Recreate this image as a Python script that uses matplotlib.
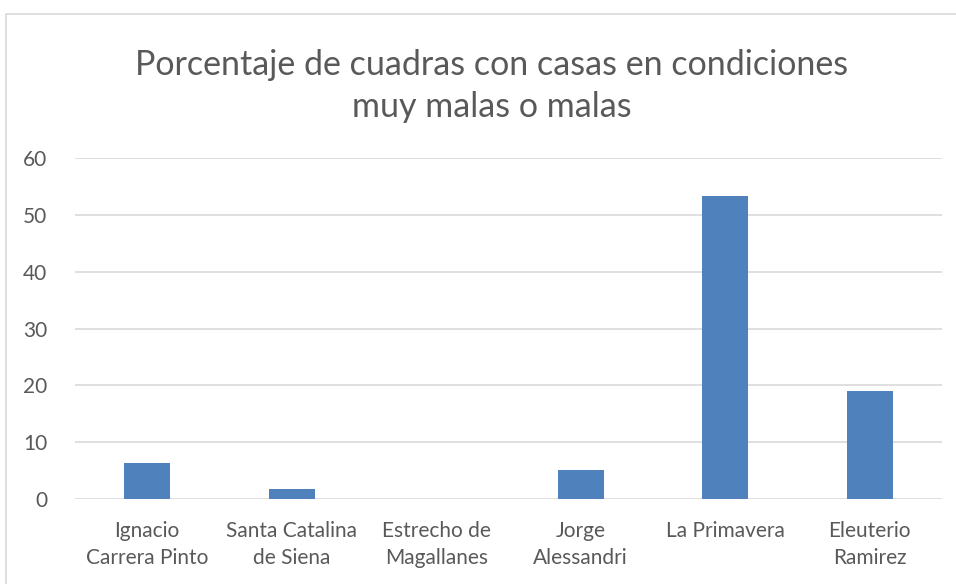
import matplotlib.pyplot as plt
from matplotlib.patches import Rectangle

# data
barrios = ['Ignacio\nCarrera Pinto', 'Santa Catalina\nde Siena', 'Estrecho de\nMagallanes',
           'Jorge\nAlessandri', 'La Primavera', 'Eleuterio\nRamirez']
porcentaje = [6.3, 1.8, 0.0, 5.1, 53.3, 19.0]
yticks = [0, 10, 20, 30, 40, 50, 60]

plt.rcParams['font.family'] = ['Lato', 'DejaVu Sans']
txt = '#595959'

fig = plt.figure(figsize=(9.56, 5.84), dpi=100)
ax = fig.add_axes([75 / 956, 1 - 499 / 584, 867 / 956, 341 / 584])

# outer chart border
fig.patches.append(Rectangle((6 / 956, -0.1), 1.1, 1 - 14 / 584 + 0.1, transform=fig.transFigure,
                             fill=False, edgecolor='#d9d9d9', linewidth=1.2))

x = range(len(barrios))
ax.bar(x, porcentaje, width=0.32, color='#4f81bd', zorder=3)
ax.set_xlim(-0.5, len(barrios) - 0.5)
ax.set_ylim(0, 60)
ax.set_yticks(yticks)
ax.set_xticks(list(x))
ax.set_xticklabels(barrios, fontsize=15, color=txt, linespacing=1.45)
ax.tick_params(axis='y', labelsize=15, labelcolor=txt, length=0, pad=20)
ax.tick_params(axis='x', length=0, pad=16)
ax.grid(axis='y', color='#d9d9d9', linewidth=1.2, zorder=0)
for s in ax.spines.values():
    s.set_visible(False)

fig.text(0.514, 1 - 86 / 584, 'Porcentaje de cuadras con casas en condiciones\nmuy malas o malas',
         ha='center', va='center', fontsize=24.5, color=txt, fontweight='normal', linespacing=1.4)

fig.savefig('out.png', dpi=100)
